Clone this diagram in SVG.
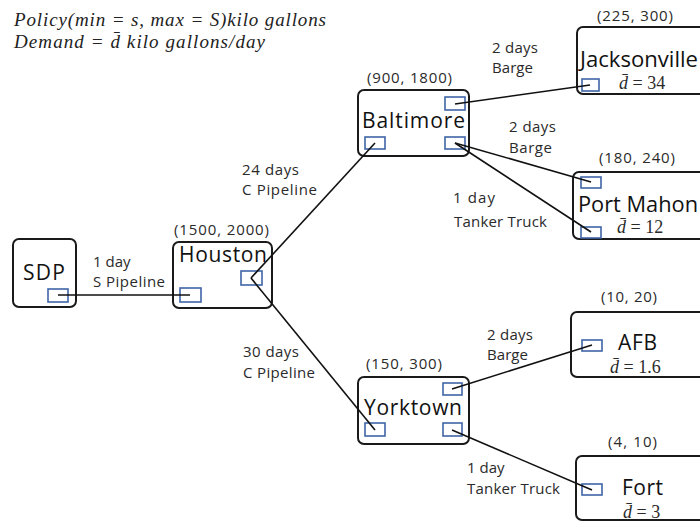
<svg xmlns="http://www.w3.org/2000/svg" width="700" height="523" viewBox="0 0 700 523">
<style>
.box{fill:#fff;stroke:#1a1a1a;stroke-width:2}
.port{fill:none;stroke:#3f65a8;stroke-width:1.6}
.name{font-family:"Open Sans","Liberation Sans",sans-serif;font-size:21px;fill:#111}
.cap{font-family:"Open Sans","Liberation Sans",sans-serif;font-size:15px;fill:#2a2a2a}
.lbl{font-family:"Open Sans","Liberation Sans",sans-serif;font-size:15px;fill:#2a2a2a}
.math{font-family:"Liberation Serif","DejaVu Serif",serif;font-style:italic;font-size:19px;fill:#222}
.dm{font-family:"Liberation Serif","DejaVu Serif",serif;font-size:18px;fill:#2a2a2a}
.conn{stroke:#111;stroke-width:1.6;fill:none}
</style>
<rect width="700" height="523" fill="#fff"/>
<g id="legend">
<text class="math" x="14" y="26" textLength="312">Policy(min = s, max = S)kilo gallons</text>
<text class="math" x="14" y="48" textLength="251">Demand = d̄ kilo gallons/day</text>
</g>
<g id="sdp">
<rect class="box" x="13" y="239" width="63" height="68" rx="6"/>
<text class="name" x="23" y="280" textLength="42">SDP</text>
<rect class="port" x="48" y="289" width="20" height="13"/>
</g>
<g id="houston">
<text class="cap" x="174" y="235" textLength="95">(1500, 2000)</text>
<rect class="box" x="173" y="242" width="99" height="66" rx="6"/>
<text class="name" x="179" y="262" textLength="88">Houston</text>
<rect class="port" x="180" y="288" width="21" height="14"/>
<rect class="port" x="241" y="271" width="21" height="14"/>
</g>
<g id="baltimore">
<text class="cap" x="367" y="83" textLength="85">(900, 1800)</text>
<rect class="box" x="358" y="90" width="111" height="66" rx="6"/>
<text class="name" x="362" y="128" textLength="103">Baltimore</text>
<rect class="port" x="445" y="97" width="20" height="13"/>
<rect class="port" x="365" y="137" width="20" height="12"/>
<rect class="port" x="445" y="137" width="20" height="12"/>
</g>
<g id="yorktown">
<text class="cap" x="366" y="369" textLength="76">(150, 300)</text>
<rect class="box" x="358" y="377" width="111" height="67" rx="6"/>
<text class="name" x="364" y="415" textLength="98">Yorktown</text>
<rect class="port" x="443" y="383" width="19" height="12"/>
<rect class="port" x="365" y="423" width="20" height="13"/>
<rect class="port" x="443" y="423" width="19" height="13"/>
</g>
<g id="jacksonville">
<text class="cap" x="597" y="21" textLength="76">(225, 300)</text>
<rect class="box" x="577" y="27" width="140" height="67" rx="6"/>
<text class="name" x="580" y="67" textLength="118" lengthAdjust="spacingAndGlyphs">Jacksonville</text>
<rect class="port" x="582" y="79" width="17" height="12"/>
<text class="dm" x="619" y="89"><tspan font-style="italic">d̄</tspan> = 34</text>
</g>
<g id="portmahon">
<text class="cap" x="599" y="163" textLength="76">(180, 240)</text>
<rect class="box" x="573" y="172" width="140" height="67" rx="6"/>
<text class="name" x="578" y="212" textLength="120" lengthAdjust="spacingAndGlyphs">Port Mahon</text>
<rect class="port" x="581" y="177" width="20" height="11"/>
<rect class="port" x="581" y="227" width="20" height="11"/>
<text class="dm" x="617" y="233"><tspan font-style="italic">d̄</tspan> = 12</text>
</g>
<g id="afb">
<text class="cap" x="601" y="302" textLength="56">(10, 20)</text>
<rect class="box" x="571" y="312" width="140" height="65" rx="6"/>
<text class="name" x="618" y="350" textLength="39">AFB</text>
<rect class="port" x="582" y="340" width="20" height="11"/>
<text class="dm" x="610" y="373"><tspan font-style="italic">d̄</tspan> = 1.6</text>
</g>
<g id="fort">
<text class="cap" x="608" y="447" textLength="49">(4, 10)</text>
<rect class="box" x="576" y="456" width="140" height="64" rx="6"/>
<text class="name" x="622" y="495" textLength="41">Fort</text>
<rect class="port" x="582" y="484" width="20" height="11"/>
<text class="dm" x="623" y="518"><tspan font-style="italic">d̄</tspan> = 3</text>
</g>
<g id="connectors">
<line class="conn" x1="58" y1="295" x2="190" y2="295"/>
<line class="conn" x1="251" y1="278" x2="375" y2="143"/>
<line class="conn" x1="251" y1="278" x2="375" y2="430"/>
<line class="conn" x1="455" y1="104" x2="590" y2="85"/>
<line class="conn" x1="455" y1="143" x2="591" y2="182"/>
<line class="conn" x1="455" y1="143" x2="591" y2="232"/>
<line class="conn" x1="452" y1="389" x2="592" y2="345"/>
<line class="conn" x1="452" y1="430" x2="592" y2="490"/>
</g>
<g id="edge-labels">
<text class="lbl" x="93" y="267">1 day</text>
<text class="lbl" x="93" y="287" textLength="72">S Pipeline</text>
<text class="lbl" x="242" y="175" textLength="57">24 days</text>
<text class="lbl" x="242" y="195" textLength="75">C Pipeline</text>
<text class="lbl" x="243" y="357" textLength="56">30 days</text>
<text class="lbl" x="243" y="378" textLength="72">C Pipeline</text>
<text class="lbl" x="492" y="53" textLength="46">2 days</text>
<text class="lbl" x="492" y="73" textLength="41">Barge</text>
<text class="lbl" x="509" y="132" textLength="47">2 days</text>
<text class="lbl" x="509" y="153" textLength="43">Barge</text>
<text class="lbl" x="453" y="203" textLength="42">1 day</text>
<text class="lbl" x="454" y="227" textLength="93">Tanker Truck</text>
<text class="lbl" x="487" y="340" textLength="46">2 days</text>
<text class="lbl" x="487" y="360" textLength="41">Barge</text>
<text class="lbl" x="467" y="473">1 day</text>
<text class="lbl" x="467" y="494" textLength="93">Tanker Truck</text>
</g>
</svg>
